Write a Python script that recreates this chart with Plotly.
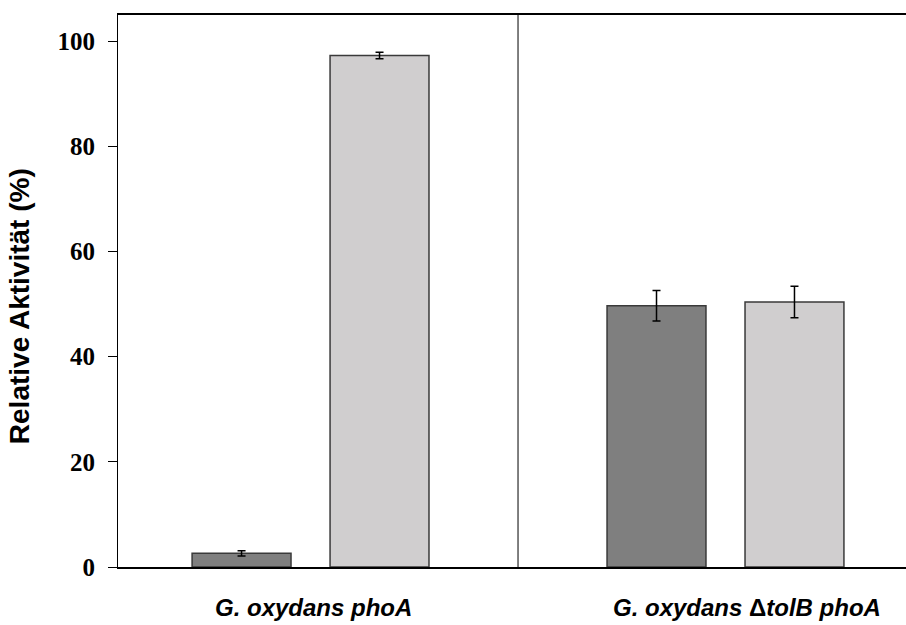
import plotly.graph_objects as go

groups = ["G. oxydans phoA", "G. oxydans ΔtolB phoA"]
group_labels = ["<b><i>G. oxydans phoA</i></b>", "<b><i>G. oxydans </i>Δ<i>tolB phoA</i></b>"]
series_a = [2.6, 49.7]
series_a_err = [0.5, 2.9]
series_b = [97.3, 50.4]
series_b_err = [0.6, 3.0]
y_ticks = [0, 20, 40, 60, 80, 100]

fig = go.Figure()
fig.add_trace(go.Bar(
    x=groups, y=series_a, name="A",
    marker=dict(color="#7f7f7f", line=dict(color="#3a3a3a", width=1.5)),
    error_y=dict(type="data", array=series_a_err, color="black", thickness=1.5, width=4),
))
fig.add_trace(go.Bar(
    x=groups, y=series_b, name="B",
    marker=dict(color="#d0cecf", line=dict(color="#3a3a3a", width=1.5)),
    error_y=dict(type="data", array=series_b_err, color="black", thickness=1.5, width=4),
))

fig.add_shape(type="line", xref="x", yref="paper", x0=0.5, x1=0.5, y0=0, y1=1,
              line=dict(color="black", width=1))

for i, lab in enumerate(group_labels):
    fig.add_annotation(x=groups[i], xref="x", y=0, yref="paper", yshift=-40,
                       xshift=(3 if i == 0 else 22),
                       text=lab, showarrow=False, yanchor="middle",
                       font=dict(family="Liberation Sans, Arial", size=24, color="black"))

fig.add_annotation(text="<b>Relative Aktivität (%)</b>", textangle=-90, showarrow=False,
                   xref="paper", yref="paper", x=-0.124, y=0.473, xanchor="center", yanchor="middle",
                   font=dict(family="Liberation Sans, Arial", size=28, color="black"))

fig.update_layout(
    width=906, height=625,
    margin=dict(l=118, r=0, t=15, b=58),
    paper_bgcolor="white", plot_bgcolor="white",
    barmode="group", bargap=0.335, bargroupgap=0.283,
    showlegend=False,
    xaxis=dict(type="category", range=[-0.464, 1.435], showticklabels=False, ticks="",
               showline=True, linecolor="black", linewidth=1.5, mirror=True, showgrid=False,
               zeroline=False),
    yaxis=dict(range=[0, 105], tickvals=y_ticks, ticks="outside", ticklen=9, tickwidth=1.2,
               tickcolor="black", showline=True, linecolor="black", linewidth=1.2,
               showgrid=False, zeroline=False, ticklabelstandoff=8,
               tickfont=dict(family="Liberation Serif, Times New Roman", size=25, color="black",
                             weight="bold")),
)

fig.write_html("out.html")
